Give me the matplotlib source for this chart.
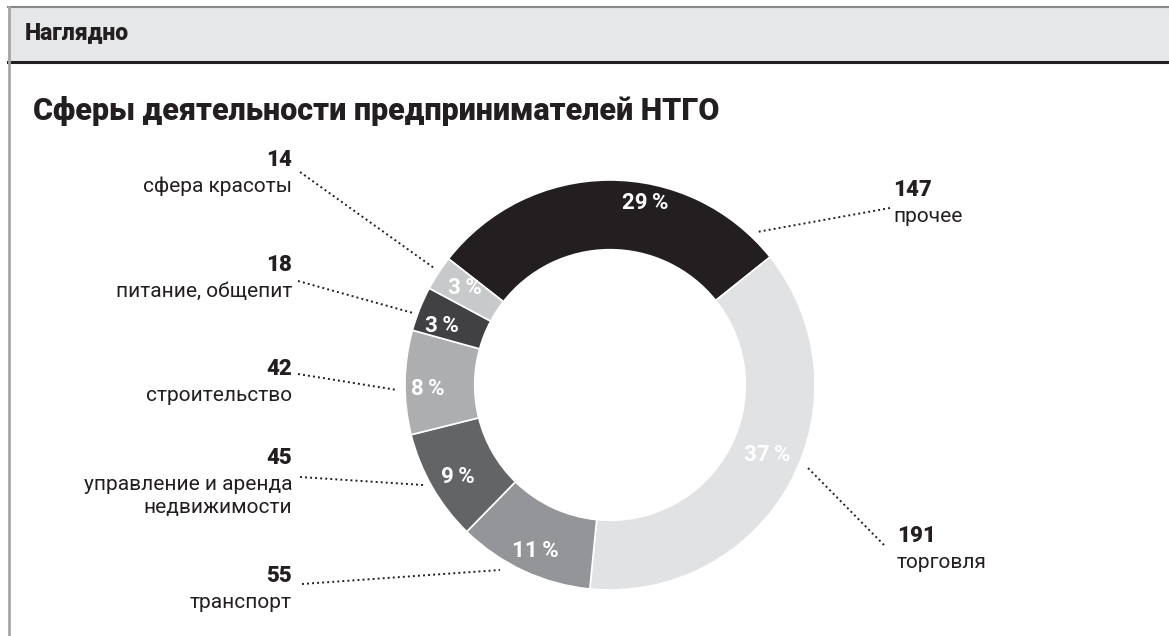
import numpy as np
import matplotlib
matplotlib.use("Agg")
import matplotlib.pyplot as plt
from matplotlib.patches import Rectangle

plt.rcParams['font.family'] = ['Roboto', 'DejaVu Sans']

# данные
categories = ["прочее", "торговля", "транспорт", "управление и аренда\nнедвижимости",
              "строительство", "питание, общепит", "сфера красоты"]
counts = [147, 191, 55, 45, 42, 18, 14]
percents = ["29\u2009%", "37\u2009%", "11\u2009%", "9\u2009%", "8\u2009%", "3\u2009%", "3\u2009%"]
colors = ["#231f20", "#e1e2e3", "#939598", "#636466", "#adaeb0", "#414042", "#c8c9ca"]

# раскладка подписей (в пикселях картинки) и концы выносок
label_pos = [(893, 190, "left"), (897, 536, "left"), (292, 576, "right"), (292, 458, "right"),
             (292, 369, "right"), (292, 265, "right"), (292, 160, "right")]
leader_start = [(890, 208), (884, 545), (302, 584), (300, 477), (298, 374), (298, 281), (300, 172)]
leader_end = [(757, 232), (806, 466), (500, 570), (423, 485), (397, 390), (413, 313), (434, 268)]
pct_pos = [(645, 203), (767, 455), (535, 551), (458, 477), (428, 389), (442, 326), (465, 288)]

W, H = 1169, 636
fig = plt.figure(figsize=(W / 100, H / 100), dpi=100)
ax = fig.add_axes([0, 0, 1, 1])
Y = lambda y: H - y

cx, cy, R = 610, 385, 205
ax.pie(counts, colors=colors, startangle=142, counterclock=False,
       center=(cx, Y(cy)), radius=R,
       wedgeprops=dict(width=R * 0.34, edgecolor="white", linewidth=1.2))
ax.set_xlim(0, W)
ax.set_ylim(0, H)
ax.set_aspect("equal")
ax.axis("off")

# шапка
ax.add_patch(Rectangle((8, Y(62)), W - 8, 55, facecolor="#e6e7e8", edgecolor="none", zorder=0))
ax.plot([8, W], [Y(7), Y(7)], color="#888888", lw=1.5)
ax.plot([8, W], [Y(62), Y(62)], color="#231f20", lw=2.2)
ax.plot([9, 9], [Y(7), 0], color="#a6a6a6", lw=2)
ax.text(25, Y(33), "Наглядно", fontsize=16.5, fontweight="black", color="#231f20", va="center")
ax.text(33, Y(111), "Сферы деятельности предпринимателей НТГО", fontsize=22,
        fontweight="black", color="#231f20", va="center")

for i, cat in enumerate(categories):
    x, y, ha = label_pos[i]
    ax.text(x, Y(y), str(counts[i]), fontsize=16, fontweight="black", color="#231f20",
            ha=ha, va="center")
    ax.text(x, Y(y + 17), cat, fontsize=15, color="#231f20", ha=ha, va="top",
            linespacing=1.3)
    (x0, y0), (x1, y1) = leader_start[i], leader_end[i]
    ax.plot([x0, x1], [Y(y0), Y(y1)], color="#231f20", lw=1.4, linestyle=(0, (1, 1.6)))
    px, py = pct_pos[i]
    ax.text(px, Y(py), percents[i], fontsize=16, fontweight="bold", color="white",
            ha="center", va="center")

fig.savefig("out.png", dpi=100)
